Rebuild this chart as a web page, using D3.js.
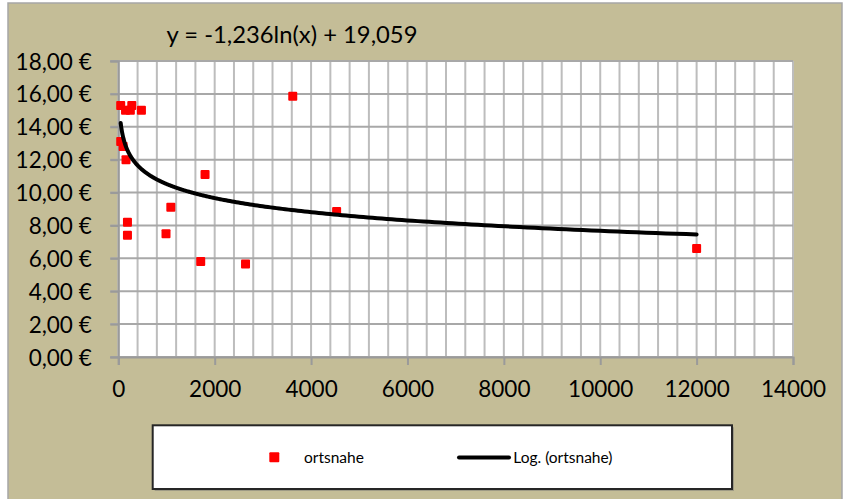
<!DOCTYPE html>
<html>
<head>
<meta charset="utf-8">
<script src="https://cdn.jsdelivr.net/npm/d3@7"></script>
<style>
  html, body { margin: 0; padding: 0; background: #ffffff; }
  svg { display: block; font-family: Lato, "Open Sans", sans-serif; }
</style>
</head>
<body>
<svg id="chart" width="846" height="499"></svg>
<script>
// ---- data ----
const seriesName = "ortsnahe";
const trendName = "Log. (ortsnahe)";
const equationLabel = "y = -1,236ln(x) + 19,059";
const trendA = -1.236;   // coefficient of ln(x)
const trendB = 19.059;   // intercept
const xValues = [50, 280, 150, 250, 480, 50, 100, 160, 190, 190, 990, 1090, 1710, 1800, 2640, 3620, 4530, 12000];
const yValues = [15.3, 15.3, 15.0, 15.0, 15.0, 13.1, 12.8, 12.0, 8.2, 7.4, 7.5, 9.1, 5.8, 11.1, 5.65, 15.85, 8.85, 6.6];
const xTicks = [0, 2000, 4000, 6000, 8000, 10000, 12000, 14000];
const yTicks = [0, 2, 4, 6, 8, 10, 12, 14, 16, 18];

// ---- layout ----
const svg = d3.select("#chart");
const plot = { left: 118.3, right: 793, top: 61, bottom: 357 };
const x = d3.scaleLinear().domain([0, 14000]).range([plot.left, plot.right]);
const y = d3.scaleLinear().domain([0, 18]).range([plot.bottom, plot.top]);
const fmtEuro = v => d3.format(".2f")(v).replace(".", ",") + " €";

// chart background
svg.append("rect").attr("x", 8).attr("y", 3).attr("width", 834).attr("height", 520)
  .attr("fill", "#C4BD97").attr("stroke", "#a6a6a6").attr("stroke-width", 1.5);

// plot area
svg.append("rect").attr("x", plot.left).attr("y", plot.top)
  .attr("width", plot.right - plot.left).attr("height", plot.bottom - plot.top)
  .attr("fill", "#ffffff");

// minor vertical gridlines
const minorX = d3.range(0, 14000 + 1, 400);
svg.append("g").selectAll("line").data(minorX).join("line")
  .attr("x1", d => x(d)).attr("x2", d => x(d))
  .attr("y1", plot.top).attr("y2", plot.bottom)
  .attr("stroke", "#bdbdbd").attr("stroke-width", 2);

// horizontal gridlines
svg.append("g").selectAll("line").data(yTicks).join("line")
  .attr("x1", plot.left - 8).attr("x2", plot.right)
  .attr("y1", d => y(d)).attr("y2", d => y(d))
  .attr("stroke", "#a8a8a8").attr("stroke-width", 2);

// x axis
const xAxis = d3.axisBottom(x).tickValues(xTicks).tickSize(8).tickFormat(d3.format("d"));
const gx = svg.append("g").attr("transform", `translate(0,${plot.bottom})`).call(xAxis);
gx.select(".domain").attr("stroke", "#9a9a9a").attr("stroke-width", 2);
gx.selectAll(".tick line").attr("stroke", "#9a9a9a").attr("stroke-width", 2);
gx.selectAll(".tick text").attr("fill", "#000").attr("font-size", 22.5)
  .attr("font-family", "Lato, sans-serif").attr("y", 0).attr("dy", "1.78em");

// y axis
const yAxis = d3.axisLeft(y).tickValues(yTicks).tickSize(8).tickFormat(fmtEuro);
const gy = svg.append("g").attr("transform", `translate(${plot.left},0)`).call(yAxis);
gy.select(".domain").attr("stroke", "#9a9a9a").attr("stroke-width", 2);
gy.selectAll(".tick line").attr("stroke", "#9a9a9a").attr("stroke-width", 2);
gy.selectAll(".tick text").attr("fill", "#000").attr("font-size", 22.5)
  .attr("font-family", "Lato, sans-serif").attr("x", -26.6).attr("dy", "0.36em");

// markers
const pts = xValues.map((v, i) => ({ x: v, y: yValues[i] }));
const ms = 9;
svg.append("g").selectAll("rect").data(pts).join("rect")
  .attr("x", d => x(d.x) - ms / 2).attr("y", d => y(d.y) - ms / 2)
  .attr("width", ms).attr("height", ms).attr("rx", 1)
  .attr("fill", "#ff0000");

// trendline (logarithmic, from displayed equation)
const xMin = d3.min(xValues), xMax = d3.max(xValues);
const trendX = d3.range(0, 301).map(i => Math.exp(Math.log(xMin) + (Math.log(xMax) - Math.log(xMin)) * i / 300));
const line = d3.line().x(d => x(d)).y(d => y(trendA * Math.log(d) + trendB));
svg.append("path").datum(trendX).attr("d", line)
  .attr("fill", "none").attr("stroke", "#000").attr("stroke-width", 4)
  .attr("stroke-linecap", "round").attr("stroke-linejoin", "round");

// equation label
svg.append("text").attr("x", 166.5).attr("y", 42.5).attr("font-size", 23.8)
  .attr("fill", "#000").text(equationLabel);

// legend
const lg = { x: 152.7, y: 425.3, w: 579.3, h: 63.7 };
svg.append("rect").attr("x", lg.x + 2).attr("y", lg.y + 2).attr("width", lg.w).attr("height", lg.h)
  .attr("fill", "#9e9a85");
svg.append("rect").attr("x", lg.x).attr("y", lg.y).attr("width", lg.w).attr("height", lg.h)
  .attr("fill", "#ffffff").attr("stroke", "#262626").attr("stroke-width", 2);
svg.append("rect").attr("x", 274.3 - 5).attr("y", 457.3 - 5).attr("width", 10).attr("height", 10)
  .attr("rx", 1).attr("fill", "#ff0000");
svg.append("text").attr("x", 304).attr("y", 462.5).attr("font-size", 15.5)
  .attr("fill", "#000").text(seriesName);
svg.append("line").attr("x1", 459).attr("x2", 509).attr("y1", 457.5).attr("y2", 457.5)
  .attr("stroke", "#000").attr("stroke-width", 4).attr("stroke-linecap", "round");
svg.append("text").attr("x", 513.3).attr("y", 462.5).attr("font-size", 15.5)
  .attr("fill", "#000").text(trendName);
</script>
</body>
</html>
